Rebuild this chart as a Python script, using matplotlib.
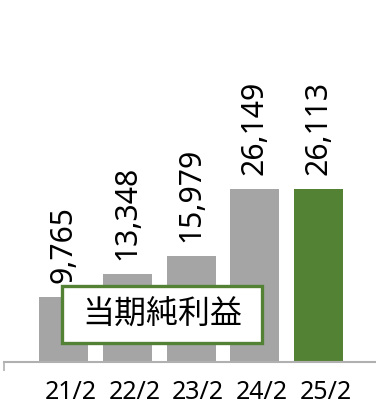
import matplotlib.pyplot as plt
import matplotlib.patches as patches
import matplotlib.transforms as mtransforms

# 当期純利益 (百万円)
periods = ["21/2", "22/2", "23/2", "24/2", "25/2"]
net_income = [9765, 13348, 15979, 26149, 26113]
bar_colors = ["#A5A5A5", "#A5A5A5", "#A5A5A5", "#A5A5A5", "#548235"]

GREEN = "#548235"
AXIS_GRAY = "#B0B0B0"

plt.rcParams['font.family'] = ["Noto Sans", "Noto Sans CJK JP", "DejaVu Sans"]

fig = plt.figure(figsize=(3.76, 4.04), dpi=100)
ax = fig.add_axes([4 / 376, 42 / 404, 372 / 376, 362 / 404])

x = list(range(len(periods)))
ax.bar(x, net_income, width=0.77, color=bar_colors)

for xi, v in zip(x, net_income):
    ax.annotate(f"{v:,}", (xi, v), xytext=(0, 10), textcoords="offset points",
                rotation=90, ha="center", va="bottom", fontsize=21.7, color="black")

ax.set_xlim(-0.943, 4.906)
ax.set_ylim(0, 54700)

for side in ["left", "right", "top"]:
    ax.spines[side].set_visible(False)
ax.spines["bottom"].set_color(AXIS_GRAY)
ax.spines["bottom"].set_linewidth(1.5)
ax.set_yticks([])

ax.set_xticks(x)
ax.set_xticklabels(periods, fontsize=18)
ax.tick_params(axis="x", which="major", length=0, pad=13)
offset = mtransforms.ScaledTranslation(7 / 100, 0, fig.dpi_scale_trans)
for lbl in ax.get_xticklabels():
    lbl.set_transform(lbl.get_transform() + offset)

# short tick at the left end of the category axis
ax.set_xticks([-0.943], minor=True)
ax.tick_params(axis="x", which="minor", length=6.5, width=1.2, color=AXIS_GRAY)

# series name box
box = patches.Rectangle((62 / 376, (404 - 343) / 404), 200 / 376, 57 / 404,
                        transform=fig.transFigure, facecolor="white",
                        edgecolor=GREEN, linewidth=2.4, zorder=5)
fig.patches.append(box)
fig.text(162 / 376, (404 - 314) / 404, "当期純利益", ha="center", va="center",
         fontsize=23, color="black", zorder=6,
         family=["Noto Sans CJK JP", "DejaVu Sans"])

fig.savefig("out.png", dpi=100)
